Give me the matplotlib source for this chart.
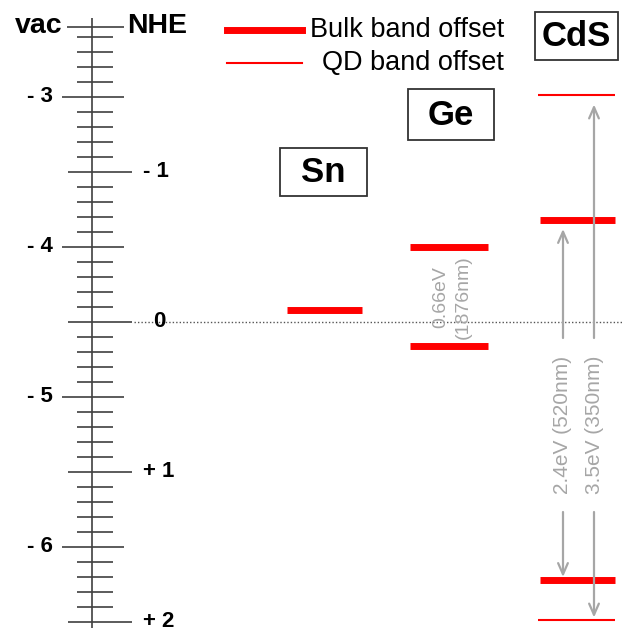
import numpy as np
import matplotlib
matplotlib.use('Agg')
import matplotlib.pyplot as plt
from matplotlib.patches import Rectangle

plt.rcParams['font.family'] = ['Liberation Sans', 'DejaVu Sans']

# ---------------- band energies (eV vs vacuum) ----------------
sn_bulk = [-4.42]
ge_bulk_cb, ge_gap, ge_nm = -4.0, 0.66, 1876
cds_bulk_cb, cds_bulk_gap, cds_bulk_nm = -3.82, 2.4, 520
cds_qd_cb, cds_qd_gap, cds_qd_nm = -2.99, 3.5, 350

vac_labels = [-3, -4, -5, -6]
nhe_labels = [-1, 0, 1, 2]
nhe_zero = -4.5          # NHE 0 on the vacuum scale

RED = '#FF0000'
GRAY = '#A6A6A6'
DARK = '#404040'


def row(y):
    """Convert a pixel row of the canvas to an energy on the vacuum scale."""
    return -3 - (y - 97) / 150.0


fig = plt.figure(figsize=(6.23, 6.34), dpi=100)
ax = fig.add_axes([0, 0, 1, 1])
ax.set_xlim(0, 623)
ax.set_ylim(row(634), row(0))
ax.axis('off')

# ---------------- energy scale ----------------
ax.vlines(92, row(628), row(18), color=DARK, lw=1.2)
ax.hlines(row(27), 67, 124, color=DARK, lw=1.2)
ax.text(63, row(26), 'vac', ha='right', va='center', fontsize=20.5, fontweight='bold')
ax.text(127, row(26), 'NHE', ha='left', va='center', fontsize=20.5, fontweight='bold')

majors = list(vac_labels) + [nhe_zero - n for n in nhe_labels]
for e in np.arange(-2.6, -6.55, -0.1):
    if any(abs(e - m) < 0.02 for m in majors):
        continue
    ax.hlines(e, 77, 113, color=DARK, lw=1.2)

for v in vac_labels:
    ax.hlines(v, 62, 124, color=DARK, lw=1.2)
    ax.text(53, v, '- %d' % abs(v), ha='right', va='center',
            fontsize=16, fontweight='bold')

for n in nhe_labels:
    e = nhe_zero - n
    ax.hlines(e, 68, 132, color=DARK, lw=1.2)
    if n == 0:
        ax.text(159, e, '0', ha='center', va='center', fontsize=16, fontweight='bold')
    else:
        s = ('- %d' if n < 0 else '+ %d') % abs(n)
        ax.text(143, e, s, ha='left', va='center', fontsize=16, fontweight='bold')

# NHE reference line
ax.hlines(nhe_zero, 134, 623, color='#555555', lw=1.0, linestyles=(0, (1, 1.5)))

# ---------------- legend ----------------
ax.plot([227, 302], [row(30), row(30)], color=RED, lw=5)
ax.text(504, row(30), 'Bulk band offset', ha='right', va='center', fontsize=19.5)
ax.plot([227, 302], [row(63), row(63)], color=RED, lw=1.5)
ax.text(504, row(63), 'QD band offset', ha='right', va='center', fontsize=19.5)

# ---------------- material boxes ----------------
for name, x0, x1, y0, y1 in [('Sn', 280, 367, 148, 196),
                             ('Ge', 408, 494, 89, 140),
                             ('CdS', 535, 618, 12, 60)]:
    ax.add_patch(Rectangle((x0, row(y1)), x1 - x0, row(y0) - row(y1),
                           fc='white', ec='#333333', lw=1.3))
    ax.text((x0 + x1) / 2, row((y0 + y1) / 2 + 1), name, ha='center', va='center',
            fontsize=25, fontweight='bold')

# ---------------- Sn ----------------
ax.hlines(sn_bulk, 287, 362, color=RED, lw=5)

# ---------------- Ge ----------------
ge_levels = [ge_bulk_cb, ge_bulk_cb - ge_gap]
ax.hlines(ge_levels, 410, 488, color=RED, lw=5)
ax.text(452, row(297), '%.2feV\n(%dnm)' % (ge_gap, ge_nm), rotation=90,
        ha='center', va='center', fontsize=14, color=GRAY, linespacing=1.45)

# ---------------- CdS ----------------
cds_bulk = [cds_bulk_cb, cds_bulk_cb - cds_bulk_gap]
cds_qd = [cds_qd_cb, cds_qd_cb - cds_qd_gap]
ax.hlines(cds_bulk, 540, 615, color=RED, lw=5)
ax.hlines(cds_qd, 538, 615, color=RED, lw=1.5)

arrow = dict(arrowstyle='->,head_length=0.8,head_width=0.35', color=GRAY, lw=1.6,
             shrinkA=0, shrinkB=0)
gap_top, gap_bot = row(338), row(512)
for x, (cb, vb), gap, nm in [(563, cds_bulk, cds_bulk_gap, cds_bulk_nm),
                             (594, cds_qd, cds_qd_gap, cds_qd_nm)]:
    ax.annotate('', xy=(x, cb - 0.06), xytext=(x, gap_top), arrowprops=arrow)
    ax.annotate('', xy=(x, vb + 0.02), xytext=(x, gap_bot), arrowprops=arrow)
    ax.text(x, (gap_top + gap_bot) / 2, '%.1feV (%dnm)' % (gap, nm), rotation=90,
            ha='center', va='center', fontsize=15, color=GRAY)

fig.savefig('out.png', dpi=100)
